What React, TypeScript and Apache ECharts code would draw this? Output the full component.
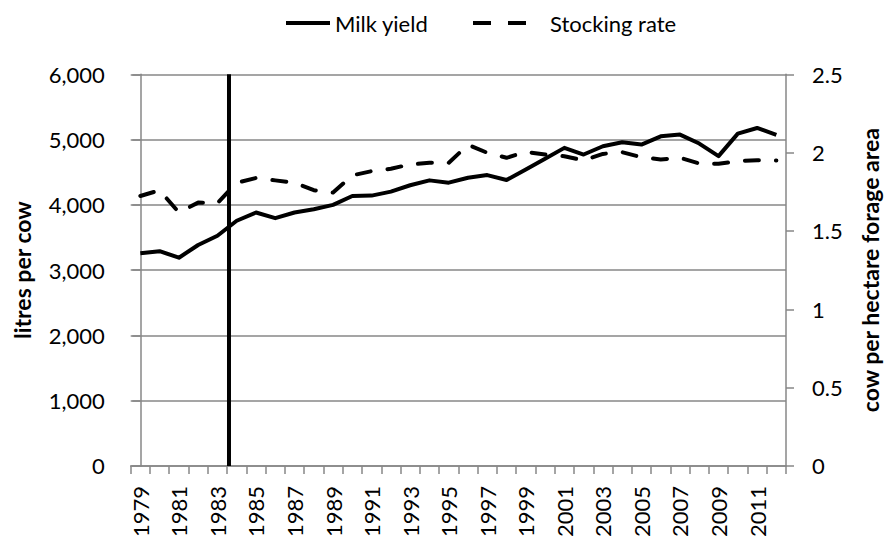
import React, { useEffect, useRef } from "react";
import * as echarts from "echarts";

const years: string[] = [
  "1979","1980","1981","1982","1983","1984","1985","1986","1987","1988",
  "1989","1990","1991","1992","1993","1994","1995","1996","1997","1998",
  "1999","2000","2001","2002","2003","2004","2005","2006","2007","2008",
  "2009","2010","2011","2012",
];

const milkYield: number[] = [
  3260, 3290, 3190, 3385, 3527, 3756, 3883, 3796, 3883, 3933,
  4000, 4136, 4142, 4203, 4300, 4375, 4340, 4416, 4456, 4380,
  4543, 4706, 4873, 4771, 4898, 4959, 4924, 5050, 5076, 4939,
  4746, 5091, 5178, 5071,
];

const stockingRate: number[] = [
  1.723, 1.76, 1.618, 1.681, 1.677, 1.808, 1.838, 1.823, 1.808, 1.76,
  1.745, 1.855, 1.882, 1.897, 1.925, 1.935, 1.935, 2.05, 1.999, 1.967,
  2.005, 1.988, 1.977, 1.95, 1.992, 2.003, 1.971, 1.956, 1.967, 1.931,
  1.929, 1.946, 1.952, 1.95,
];

const markerYear = 1983.6;
const leftMax = 6000;
const leftInterval = 1000;
const rightMax = 2.5;
const rightInterval = 0.5;

const FONT = "Lato";
const GRID_COLOR = "#878787";

export default function App() {
  const ref = useRef<HTMLDivElement>(null);

  useEffect(() => {
    if (!ref.current) return;
    const chart = echarts.init(ref.current, undefined, { renderer: "svg" });
    const markerPos = markerYear - Number(years[0]);

    const option: any = {
      animation: false,
      backgroundColor: "#ffffff",
      textStyle: { fontFamily: FONT, color: "#000" },
      grid: { left: 130.7, right: 99, top: 74.3, bottom: 71.7, containLabel: false },
      legend: [
        {
          data: [{ name: "Milk yield", icon: "path://M0,0H44V4H0Z" }],
          left: 281,
          top: 5,
          itemWidth: 44,
          itemHeight: 4,
          itemStyle: { color: "#000", borderWidth: 0 },
          lineStyle: { width: 0 },
          textStyle: { fontFamily: FONT, fontSize: 22, color: "#000", lineHeight: 26 },
        },
        {
          data: [{ name: "Stocking rate", icon: "path://M0,0H18V4H0Z M35,0H53V4H35Z" }],
          left: 468,
          top: 5,
          itemWidth: 53,
          itemHeight: 4,
          itemStyle: { color: "#000", borderWidth: 0 },
          lineStyle: { width: 0 },
          textStyle: {
            fontFamily: FONT,
            fontSize: 22,
            color: "#000",
            lineHeight: 26,
            padding: [0, 0, 0, 19],
          },
        },
      ],
      xAxis: [
        {
          type: "category",
          data: years,
          boundaryGap: true,
          axisLine: { show: true, lineStyle: { color: GRID_COLOR, width: 1.5 } },
          axisTick: {
            show: true,
            interval: 0,
            length: 8,
            lineStyle: { color: GRID_COLOR, width: 1.5 },
          },
          axisLabel: {
            interval: 1,
            rotate: 90,
            margin: 20,
            fontFamily: FONT,
            fontSize: 22,
            color: "#000",
          },
          splitLine: { show: false },
        },
        {
          type: "value",
          min: -0.5,
          max: years.length - 0.5,
          show: false,
        },
      ],
      yAxis: [
        {
          type: "value",
          min: 0,
          max: leftMax,
          interval: leftInterval,
          name: "litres per cow",
          nameLocation: "middle",
          nameGap: 97,
          nameTextStyle: { fontFamily: FONT, fontSize: 23, fontWeight: "bold", color: "#000" },
          axisLine: { show: true, lineStyle: { color: GRID_COLOR, width: 1.5 } },
          axisTick: { show: true, length: 8, lineStyle: { color: GRID_COLOR, width: 1.5 } },
          axisLabel: {
            margin: 26,
            fontFamily: FONT,
            fontSize: 22,
            color: "#000",
            formatter: (v: number) => v.toLocaleString("en-US"),
          },
          splitLine: { show: true, lineStyle: { color: GRID_COLOR, width: 1.5 } },
        },
        {
          type: "value",
          min: 0,
          max: rightMax,
          interval: rightInterval,
          position: "right",
          name: "cow per hectare forage area",
          nameLocation: "middle",
          nameGap: 72,
          nameTextStyle: { fontFamily: FONT, fontSize: 23, fontWeight: "bold", color: "#000" },
          axisLine: { show: true, lineStyle: { color: GRID_COLOR, width: 1.5 } },
          axisTick: { show: true, length: 8, lineStyle: { color: GRID_COLOR, width: 1.5 } },
          axisLabel: {
            margin: 26,
            fontFamily: FONT,
            fontSize: 22,
            color: "#000",
            formatter: (v: number) => String(v),
          },
          splitLine: { show: false },
        },
      ],
      series: [
        {
          name: "Milk yield",
          type: "line",
          data: milkYield,
          xAxisIndex: 0,
          yAxisIndex: 0,
          symbol: "none",
          showSymbol: false,
          color: "#000",
          lineStyle: { color: "#000", width: 4, join: "round" },
          z: 3,
        },
        {
          name: "Stocking rate",
          type: "line",
          data: stockingRate,
          xAxisIndex: 0,
          yAxisIndex: 1,
          symbol: "none",
          showSymbol: false,
          color: "#000",
          lineStyle: { color: "#000", width: 4, type: [14, 17], cap: "round", join: "round" },
          z: 3,
        },
        {
          name: "marker",
          type: "line",
          xAxisIndex: 1,
          yAxisIndex: 0,
          data: [
            [markerPos, 0],
            [markerPos, leftMax],
          ],
          symbol: "none",
          showSymbol: false,
          color: "#000",
          lineStyle: { color: "#000", width: 4 },
          z: 4,
        },
      ],
    };

    chart.setOption(option);
    return () => chart.dispose();
  }, []);

  return (
    <div
      ref={ref}
      style={{ position: "fixed", left: 0, top: 0, width: 889, height: 540, background: "#fff" }}
    />
  );
}
